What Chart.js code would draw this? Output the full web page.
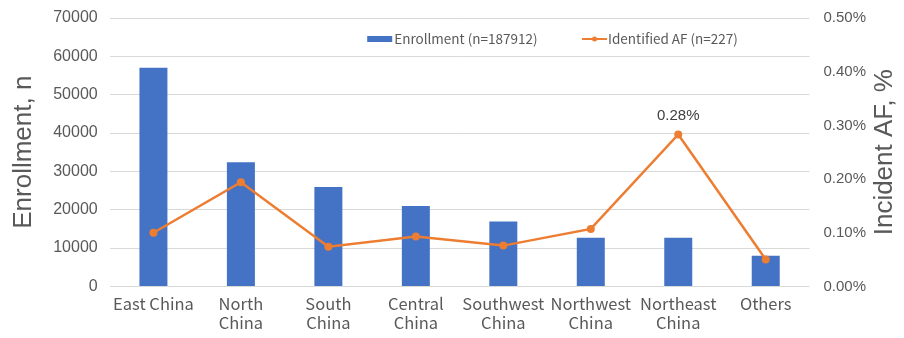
<!DOCTYPE html>
<html>
<head>
<meta charset="utf-8">
<script src="https://cdn.jsdelivr.net/npm/chart.js@4.4.1/dist/chart.umd.min.js"></script>
<style>
  html, body { margin: 0; padding: 0; background: #fff; }
  #wrap { width: 904px; height: 338px; }
</style>
</head>
<body>
<div id="wrap"><canvas id="afChart"></canvas></div>
<script>
// ---------- DATA ----------
const regions = [
    'East China', ['North', 'China'], ['South', 'China'], ['Central', 'China'],
    ['Southwest', 'China'], ['Northwest', 'China'], ['Northeast', 'China'], 'Others'
];
const enrollment = [57000, 32400, 25900, 21000, 16900, 12700, 12700, 8000];
const incidentAF = [0.100, 0.194, 0.074, 0.093, 0.076, 0.107, 0.283, 0.050];
const enrollmentLabel = 'Enrollment (n=187912)';
const afLabel = 'Identified AF (n=227)';
const rightTitle = 'Incident AF, %';

const BLUE = '#4472C4';
const ORANGE = '#ED7D31';
const GREY = '#595959';
const LABEL_FONT = "'Noto Sans CJK SC', 'Noto Sans', sans-serif";
const NUM_FONT = "'Liberation Sans', Arial, sans-serif";

// ---------- LEGEND INSIDE PLOT AREA ----------
const insideLegend = {
    id: 'insideLegend',
    afterDraw(chart) {
        const { ctx, chartArea } = chart;
        const y = chartArea.top + 21;
        let x = chartArea.left + chartArea.width * 0.368;
        ctx.save();
        ctx.font = "13.5px " + LABEL_FONT;
        ctx.textBaseline = 'middle';
        // bar swatch
        ctx.fillStyle = BLUE;
        ctx.fillRect(x, y - 3, 25, 6);
        ctx.fillStyle = GREY;
        ctx.fillText(enrollmentLabel, x + 27, y);
        // line swatch
        x = chartArea.left + chartArea.width * 0.675;
        ctx.strokeStyle = ORANGE;
        ctx.lineWidth = 2;
        ctx.beginPath();
        ctx.moveTo(x, y);
        ctx.lineTo(x + 25, y);
        ctx.stroke();
        ctx.fillStyle = ORANGE;
        ctx.beginPath();
        ctx.arc(x + 12.5, y, 2.5, 0, Math.PI * 2);
        ctx.fill();
        ctx.fillStyle = GREY;
        ctx.fillText(afLabel, x + 26, y);
        ctx.restore();
    }
};

// ---------- RIGHT AXIS TITLE (reads bottom-to-top like the left one) ----------
const rightAxisTitle = {
    id: 'rightAxisTitle',
    afterDraw(chart) {
        const { ctx, chartArea, width } = chart;
        ctx.save();
        ctx.translate(width - 19, (chartArea.top + chartArea.bottom) / 2);
        ctx.rotate(-Math.PI / 2);
        ctx.font = "26px " + NUM_FONT;
        ctx.fillStyle = GREY;
        ctx.textAlign = 'center';
        ctx.textBaseline = 'middle';
        ctx.fillText(rightTitle, 0, 0);
        ctx.restore();
    }
};

// ---------- PEAK VALUE LABEL ----------
const peakLabel = {
    id: 'peakLabel',
    afterDatasetsDraw(chart) {
        const meta = chart.getDatasetMeta(1);
        const peak = incidentAF.indexOf(Math.max(...incidentAF));
        const pt = meta.data[peak];
        const { ctx } = chart;
        ctx.save();
        ctx.font = "15px " + NUM_FONT;
        ctx.fillStyle = '#404040';
        ctx.textAlign = 'center';
        ctx.textBaseline = 'bottom';
        ctx.fillText(incidentAF[peak].toFixed(2) + '%', pt.x, pt.y - 11);
        ctx.restore();
    }
};

// keep the top gridline close to the canvas edge
const trimTop = scale => { scale.paddingTop = 0; };

// ---------- CHART ----------
const ctx = document.getElementById('afChart').getContext('2d');
new Chart(ctx, {
    data: {
        labels: regions,
        datasets: [
            {
                type: 'bar',
                label: enrollmentLabel,
                data: enrollment,
                backgroundColor: BLUE,
                yAxisID: 'y',
                barPercentage: 0.64,
                categoryPercentage: 0.5,
                order: 2
            },
            {
                type: 'line',
                label: afLabel,
                data: incidentAF,
                borderColor: ORANGE,
                backgroundColor: ORANGE,
                borderWidth: 2.5,
                pointRadius: 4,
                pointBackgroundColor: ORANGE,
                pointBorderWidth: 0,
                tension: 0,
                yAxisID: 'y1',
                order: 1
            }
        ]
    },
    options: {
        responsive: true,
        maintainAspectRatio: false,
        animation: false,
        layout: { padding: { top: 18, right: 24, bottom: 0, left: 8 } },
        plugins: {
            legend: { display: false },
            tooltip: { enabled: false }
        },
        scales: {
            x: {
                afterFit: s => { s.height += 6; },
                grid: { display: false },
                border: { display: false },
                ticks: {
                    color: GREY,
                    font: { size: 16.5, family: LABEL_FONT, lineHeight: 1.2 },
                    maxRotation: 0,
                    autoSkip: false,
                    padding: -1
                }
            },
            y: {
                position: 'left',
                min: 0,
                max: 70000,
                afterFit: trimTop,
                grid: { color: '#d9d9d9', drawTicks: false },
                border: { display: false },
                ticks: {
                    stepSize: 10000,
                    color: GREY,
                    font: { size: 16, family: NUM_FONT, lineHeight: 1 },
                    padding: 12,
                    callback: v => String(v)
                },
                title: {
                    display: true,
                    text: 'Enrollment, n',
                    color: GREY,
                    font: { size: 26, family: NUM_FONT },
                    padding: { top: 0, bottom: 2 }
                }
            },
            y1: {
                position: 'right',
                min: 0,
                max: 0.5,
                afterFit: trimTop,
                grid: { display: false, drawTicks: false },
                border: { display: false },
                ticks: {
                    stepSize: 0.1,
                    color: GREY,
                    font: { size: 15, family: NUM_FONT, lineHeight: 1 },
                    padding: 14,
                    callback: v => v.toFixed(2) + '%'
                }
            }
        }
    },
    plugins: [insideLegend, rightAxisTitle, peakLabel]
});
</script>
</body>
</html>
